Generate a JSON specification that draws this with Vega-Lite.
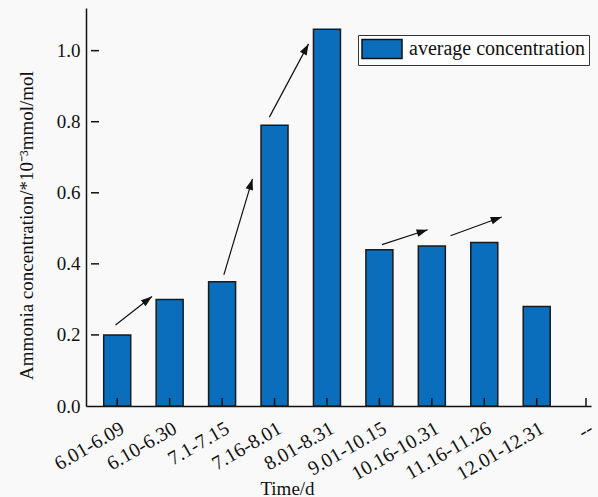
{
  "$schema": "https://vega.github.io/schema/vega-lite/v6.json",
  "width": 505,
  "height": 398,
  "autosize": {"type": "none"},
  "padding": {"left": 86, "top": 8, "right": 7, "bottom": 91},
  "background": "#f9f9f9",
  "config": {
    "view": {"stroke": null},
    "font": "Liberation Serif",
    "axis": {
      "grid": false,
      "zindex": 1,
      "ticks": false,
      "domainColor": "#111111",
      "domainWidth": 1.5,
      "labelColor": "#111111",
      "labelFontSize": 19,
      "labelFont": "Liberation Serif",
      "titleFont": "Liberation Serif",
      "titleFontSize": 19,
      "titleFontWeight": "normal",
      "titleColor": "#111111",
      "labelFlush": false,
      "labelOverlap": false
    }
  },
  "datasets": {
    "bars": [
      {"idx": 1, "period": "6.01-6.09", "value": 0.2},
      {"idx": 2, "period": "6.10-6.30", "value": 0.3},
      {"idx": 3, "period": "7.1-7.15", "value": 0.35},
      {"idx": 4, "period": "7.16-8.01", "value": 0.79},
      {"idx": 5, "period": "8.01-8.31", "value": 1.06},
      {"idx": 6, "period": "9.01-10.15", "value": 0.44},
      {"idx": 7, "period": "10.16-10.31", "value": 0.45},
      {"idx": 8, "period": "11.16-11.26", "value": 0.46},
      {"idx": 9, "period": "12.01-12.31", "value": 0.28}
    ],
    "arrows": [
      {"x1": 0.967, "y1": 0.228, "x2": 1.663, "y2": 0.308},
      {"x1": 3.033, "y1": 0.369, "x2": 3.58, "y2": 0.639},
      {"x1": 3.902, "y1": 0.813, "x2": 4.649, "y2": 1.019},
      {"x1": 6.049, "y1": 0.454, "x2": 6.92, "y2": 0.496},
      {"x1": 7.355, "y1": 0.479, "x2": 8.333, "y2": 0.532}
    ],
    "xticks": [
      {"t": 1}, {"t": 2}, {"t": 3}, {"t": 4}, {"t": 5},
      {"t": 6}, {"t": 7}, {"t": 8}, {"t": 9}, {"t": 9.94}
    ],
    "yticks": [
      {"v": 0.2}, {"v": 0.4}, {"v": 0.6}, {"v": 0.8}, {"v": 1.0}
    ]
  },
  "layer": [
    {
      "data": {"name": "bars"},
      "mark": {"type": "bar", "orient": "vertical", "width": 27, "stroke": "#1a1a1a", "strokeWidth": 1.5},
      "encoding": {
        "x": {
          "field": "idx",
          "type": "quantitative",
          "title": "Time/d",
          "scale": {"domain": [0.5, 9.94], "nice": false, "zero": false},
          "axis": {
            "values": [1, 2, 3, 4, 5, 6, 7, 8, 9, 9.94],
            "labelExpr": "datum.value > 9.5 ? '--' : ['', '6.01-6.09', '6.10-6.30', '7.1-7.15', '7.16-8.01', '8.01-8.31', '9.01-10.15', '10.16-10.31', '11.16-11.26', '12.01-12.31'][datum.value]",
            "labelAngle": -30,
            "labelAlign": "right",
            "labelBaseline": "top",
            "labelFontSize": 20,
            "labelPadding": 12,
            "titleX": 201,
            "titleY": 88,
            "titleAlign": "center",
            "titleBaseline": "alphabetic"
          }
        },
        "y": {
          "field": "value",
          "type": "quantitative",
          "title": "Ammonia concentration/*10⁻³mmol/mol",
          "scale": {"domain": [0, 1.12], "nice": false},
          "axis": {
            "values": [0, 0.2, 0.4, 0.6, 0.8, 1.0],
            "format": ".1f",
            "labelPadding": 6,
            "titleX": -60,
            "titleY": 217,
            "titleAlign": "center",
            "titleBaseline": "middle"
          }
        },
        "fill": {
          "datum": "average concentration",
          "type": "nominal",
          "scale": {"range": ["#0a6ebd"]},
          "legend": {
            "title": null,
            "orient": "none",
            "legendX": 272,
            "legendY": 27,
            "strokeColor": "#333333",
            "fillColor": "#ffffff",
            "padding": 3,
            "symbolType": "M-2,-0.95H2V0.95H-2Z",
            "symbolSize": 400,
            "symbolOffset": 10,
            "symbolStrokeColor": "#111111",
            "symbolStrokeWidth": 1.5,
            "symbolOpacity": 1,
            "labelFont": "Liberation Serif",
            "labelFontSize": 20,
            "labelColor": "#111111",
            "labelOffset": 16,
            "labelLimit": 300
          }
        }
      }
    },
    {
      "data": {"name": "xticks"},
      "mark": {"type": "rule", "color": "#111111", "strokeWidth": 1.5, "y2Offset": -8},
      "encoding": {
        "x": {"field": "t", "type": "quantitative", "title": "Time/d"},
        "y": {"datum": 0, "type": "quantitative"},
        "y2": {"datum": 0}
      }
    },
    {
      "data": {"name": "yticks"},
      "mark": {"type": "rule", "color": "#111111", "strokeWidth": 1.5, "x2Offset": 8},
      "encoding": {
        "y": {"field": "v", "type": "quantitative", "title": "Ammonia concentration/*10⁻³mmol/mol"},
        "x": {"datum": 0.5, "type": "quantitative"},
        "x2": {"datum": 0.5}
      }
    },
    {
      "data": {"name": "arrows"},
      "mark": {"type": "rule", "color": "#111111", "strokeWidth": 1.2},
      "encoding": {
        "x": {"field": "x1", "type": "quantitative", "title": "Time/d"},
        "y": {"field": "y1", "type": "quantitative", "title": "Ammonia concentration/*10⁻³mmol/mol"},
        "x2": {"field": "x2"},
        "y2": {"field": "y2"}
      }
    },
    {
      "data": {"name": "arrows"},
      "transform": [
        {"calculate": "atan2((datum.x2 - datum.x1) * 53.5, (datum.y2 - datum.y1) * 355) * 180 / PI", "as": "ang"}
      ],
      "mark": {"type": "point", "shape": "M0,0L-0.35,1L0.35,1Z", "size": 484, "filled": true, "color": "#111111", "opacity": 1},
      "encoding": {
        "x": {"field": "x2", "type": "quantitative", "title": "Time/d"},
        "y": {"field": "y2", "type": "quantitative", "title": "Ammonia concentration/*10⁻³mmol/mol"},
        "angle": {"field": "ang", "type": "quantitative", "scale": null}
      }
    }
  ]
}
